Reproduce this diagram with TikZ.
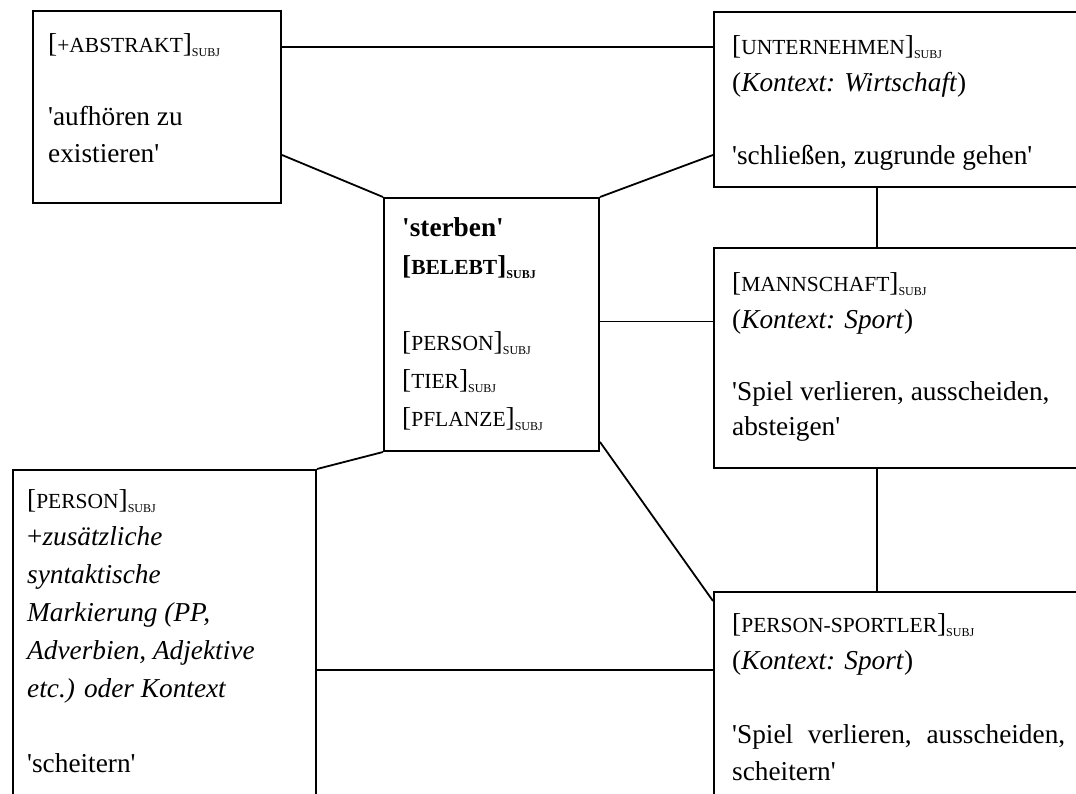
\documentclass[tikz,border=0pt]{standalone}
\usepackage{fontspec}
\setmainfont{Liberation Serif}
\usetikzlibrary{calc}
\newcommand{\capsz}[1]{{\fontsize{21.5pt}{21.5pt}\selectfont #1}}
\newcommand{\subjmark}{\raisebox{-4pt}{\fontsize{12pt}{12pt}\selectfont SUBJ}}
\newcommand{\apo}{\textquotesingle}
\newcommand{\textlines}[2]{\vtop{\baselineskip=#1\lineskiplimit=-100pt\lineskip=0pt\relax #2}}
\tikzset{
  box/.style={draw, line width=2pt, rectangle, inner sep=0pt, anchor=north west},
  txt/.style={anchor=base west, inner sep=0pt, font=\fontsize{27.3pt}{36pt}\selectfont},
  link/.style={line width=1.8pt}
}
\begin{document}
\begin{tikzpicture}[x=1pt, y=-1pt]
\useasboundingbox (0,0) rectangle (1076,794);
\fill[white] (0,0) rectangle (1076,794);
\clip (0,0) rectangle (1076,794);

% boxes
\node[box, minimum width=248pt, minimum height=192pt] (A) at (32,10) {};
\node[box, minimum width=215pt, minimum height=253pt] (S) at (383,197) {};
\node[box, minimum width=390pt, minimum height=175pt] (U) at (713,11) {};
\node[box, minimum width=390pt, minimum height=220pt] (M) at (713,247) {};
\node[box, minimum width=303pt, minimum height=345pt] (L) at (12,469) {};
\node[box, minimum width=390pt, minimum height=220pt] (P) at (713,591) {};

% texts
\node[txt] (At) at (48,53) {\textlines{36.5pt}{%
  \hbox{[\capsz{+ABSTRAKT}]\subjmark}
  \hbox{}
  \hbox{\apo aufhören zu}
  \hbox{existieren\apo}}};

\node[txt] (St) at (402,237) {\textlines{38pt}{%
  \hbox{\bfseries\apo sterben\apo}
  \hbox{\bfseries[\capsz{BELEBT}]\subjmark}
  \hbox{}
  \hbox{[\capsz{PERSON}]\subjmark}
  \hbox{[\capsz{TIER}]\subjmark}
  \hbox{[\capsz{PFLANZE}]\subjmark}}};

\node[txt] (Ut) at (732,55) {\textlines{36.5pt}{%
  \hbox{[\capsz{UNTERNEHMEN}]\subjmark}
  \hbox{(\textit{Kontext: Wirtschaft})}
  \hbox{}
  \hbox{\apo schließen, zugrunde gehen\apo}}};

\node[txt] (Mt) at (732,292) {\textlines{36pt}{%
  \hbox{[\capsz{MANNSCHAFT}]\subjmark}
  \hbox{(\textit{Kontext: Sport})}
  \hbox{}
  \hbox{\apo Spiel verlieren, ausscheiden,}
  \hbox{absteigen\apo}}};

\node[txt] (Lt) at (27,508) {\textlines{37.8pt}{%
  \hbox{[\capsz{PERSON}]\subjmark}
  \hbox{+\textit{zusätzliche}}
  \hbox{\textit{syntaktische}}
  \hbox{\textit{Markierung (PP,}}
  \hbox{\textit{Adverbien, Adjektive}}
  \hbox{\textit{etc.) oder Kontext}}
  \hbox{}
  \hbox{\apo scheitern\apo}}};

\node[txt] (Pt) at (732,632) {\textlines{37pt}{%
  \hbox{[\capsz{PERSON-SPORTLER}]\subjmark}
  \hbox{(\textit{Kontext: Sport})}
  \hbox{}
  \hbox to 333pt{\apo Spiel\hfill\ verlieren,\hfill\ ausscheiden,}
  \hbox{scheitern\apo}}};

% connectors
\draw[link] ([yshift=-37pt]A.north east) -- ([yshift=-37pt]A.north east -| U.west);
\draw[link] ([yshift=49pt]A.south east) -- (S.north west);
\draw[link] (S.north east) -- ([yshift=33pt]U.south west);
\draw[link] ([xshift=164pt]U.south west) -- ([xshift=164pt]M.north west);
\draw[link] ([yshift=3pt]S.east) -- ([yshift=3pt]S.east -| M.west);
\draw[link] ([xshift=164pt]M.south west) -- ([xshift=164pt]P.north west);
\draw[link] ([yshift=10pt]S.south east) -- ([yshift=-10pt]P.north west);
\draw[link] (S.south west) -- (L.north east);
\draw[link] ([yshift=-201pt]L.north east) -- ([yshift=-201pt]L.north east -| P.west);
\end{tikzpicture}
\end{document}
